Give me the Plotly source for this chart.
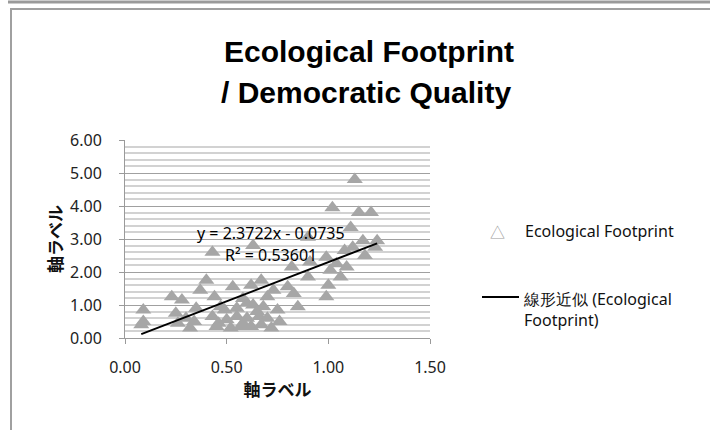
import numpy as np
import plotly.graph_objects as go

# Ecological footprint (x) vs democratic quality (y)
footprint_x = [
    0.08, 0.09, 0.09, 0.23, 0.25, 0.26, 0.28, 0.30, 0.32, 0.34, 0.35,
    0.37, 0.40, 0.43, 0.43, 0.44, 0.45, 0.46, 0.47, 0.49, 0.50, 0.52,
    0.53, 0.55, 0.55, 0.57, 0.58, 0.58, 0.60, 0.60, 0.62, 0.62, 0.63,
    0.63, 0.65, 0.66, 0.67, 0.67, 0.68, 0.70, 0.70, 0.72, 0.73, 0.75,
    0.76, 0.80, 0.82, 0.83, 0.85, 0.90, 0.90, 0.91, 0.99, 0.99, 1.00,
    1.01, 1.02, 1.04, 1.06, 1.08, 1.09, 1.11, 1.12, 1.13, 1.15, 1.17,
    1.18, 1.21, 1.23, 1.24,
]
quality_y = [
    0.40, 0.85, 0.50, 1.25, 0.75, 0.45, 1.15, 0.60, 0.30, 0.50, 0.90,
    1.45, 1.75, 2.60, 0.65, 1.25, 0.35, 0.45, 0.95, 0.85, 0.55, 0.30,
    1.55, 0.65, 0.90, 0.35, 0.45, 1.20, 1.05, 0.60, 1.60, 0.35, 2.80,
    1.00, 0.80, 0.65, 1.75, 0.40, 0.95, 1.25, 0.60, 0.30, 1.45, 0.85,
    0.50, 1.55, 2.15, 1.35, 0.95, 3.05, 1.85, 2.30, 1.25, 2.45, 1.60,
    2.05, 3.95, 2.25, 1.85, 2.65, 2.15, 3.35, 2.75, 4.80, 3.80, 2.95,
    2.50, 3.80, 2.75, 2.95,
]

# linear trendline as reported on the chart
slope = 2.3722
intercept = -0.0735
r_squared = 0.53601

series_name = "Ecological Footprint"
trend_name = "線形近似 (Ecological<br>Footprint)"
axis_label = "軸ラベル"

# plot area in pixels
L, R, T, B = 125, 430, 140, 338


def px(x, y):
    return (x - L) / (R - L), (B - y) / (B - T)


trend_x = np.array([min(footprint_x), max(footprint_x)])
trend_y = slope * trend_x + intercept

fig = go.Figure()

fig.add_trace(go.Scatter(
    x=footprint_x,
    y=quality_y,
    mode="markers",
    name=series_name,
    marker=dict(symbol="triangle-up", size=14, color="#a6a6a6",
                line=dict(width=0)),
    showlegend=False,
))

fig.add_trace(go.Scatter(
    x=trend_x,
    y=trend_y,
    mode="lines",
    name=trend_name,
    line=dict(color="#000000", width=2),
    showlegend=False,
))

tick_font = dict(family="Noto Sans, sans-serif", size=16, color="#222")
label_font = dict(family="Noto Sans CJK JP", size=17, color="#111")

fig.update_xaxes(
    range=[0, 1.5],
    dtick=0.5,
    tickformat=".2f",
    showgrid=False,
    zeroline=False,
    showline=True,
    linecolor="#9a9a9a",
    linewidth=1,
    ticks="outside",
    ticklen=5,
    tickcolor="#9a9a9a",
    tickfont=tick_font,
    ticklabelstandoff=10,
    title=dict(text="<b>" + axis_label + "</b>", font=label_font, standoff=6),
)

fig.update_yaxes(
    range=[0, 6],
    dtick=1,
    tickformat=".2f",
    showgrid=True,
    gridcolor="#a0a0a0",
    gridwidth=1,
    zeroline=False,
    showline=True,
    linecolor="#9a9a9a",
    linewidth=1,
    ticks="outside",
    ticklen=5,
    tickcolor="#9a9a9a",
    tickfont=tick_font,
    ticklabelstandoff=14,
    minor=dict(dtick=0.2, showgrid=True, gridcolor="#d2d2d2", gridwidth=2),
    title=dict(text="<b>" + axis_label + "</b>", font=label_font, standoff=3),
)

annotations = []

title_font = dict(family="Liberation Sans", size=30, color="#000")
tx, ty = px(369, 51)
annotations.append(dict(
    x=tx, y=ty, xref="paper", yref="paper", showarrow=False,
    xanchor="center", yanchor="middle",
    text="<b>Ecological Footprint</b>", font=title_font,
))
tx, ty = px(366, 92)
annotations.append(dict(
    x=tx, y=ty, xref="paper", yref="paper", showarrow=False,
    xanchor="center", yanchor="middle",
    text="<b>/ Democratic Quality</b>", font=title_font,
))

# trendline equation
eq_font = dict(family="Noto Sans, sans-serif", size=16, color="#000")
annotations.append(dict(
    x=0.72, y=3.18, showarrow=False, xanchor="center", yanchor="middle",
    text="y = %.4fx - %.4f" % (slope, abs(intercept)), font=eq_font,
))
annotations.append(dict(
    x=0.72, y=2.53, showarrow=False, xanchor="center", yanchor="middle",
    text="R² = %.5f" % r_squared, font=eq_font,
))

# legend drawn by hand
leg_font = dict(family="Noto Sans, sans-serif", size=16, color="#111")
mx, my = px(498, 231)
annotations.append(dict(
    x=mx, y=my, xref="paper", yref="paper", showarrow=False,
    xanchor="center", yanchor="middle",
    text="△", font=dict(family="Noto Sans CJK JP", size=15, color="#999"),
))
lx, ly = px(523, 231)
annotations.append(dict(
    x=lx, y=ly, xref="paper", yref="paper", showarrow=False,
    xanchor="left", yanchor="middle", text=series_name, font=leg_font,
))
lx, ly = px(521, 309)
annotations.append(dict(
    x=lx, y=ly, xref="paper", yref="paper", showarrow=False,
    xanchor="left", yanchor="middle", align="left",
    text=trend_name, font=leg_font,
))

shapes = []
x0, y0 = px(482, 297)
x1, _ = px(519, 297)
shapes.append(dict(type="line", xref="paper", yref="paper",
                   x0=x0, x1=x1, y0=y0, y1=y0,
                   line=dict(color="#000", width=2)))

# chart frame
fx0, fy0 = px(8, 2)
fx1, _ = px(712, 2)
shapes.append(dict(type="line", xref="paper", yref="paper",
                   x0=fx0, x1=fx1, y0=fy0, y1=fy0,
                   line=dict(color="#9a9a9a", width=3)))
bx0, by0 = px(11, 9)
bx1, by1 = px(715, 440)
shapes.append(dict(type="rect", xref="paper", yref="paper",
                   x0=bx0, x1=bx1, y0=by0, y1=by1,
                   line=dict(color="#a0a0a0", width=2)))

fig.update_layout(
    width=710,
    height=430,
    margin=dict(l=L, r=710 - R, t=T, b=430 - B),
    paper_bgcolor="white",
    plot_bgcolor="white",
    annotations=annotations,
    shapes=shapes,
    showlegend=False,
)

fig.write_html("out.html", config={"displayModeBar": False},
               post_script="document.body.style.margin = '0';")
